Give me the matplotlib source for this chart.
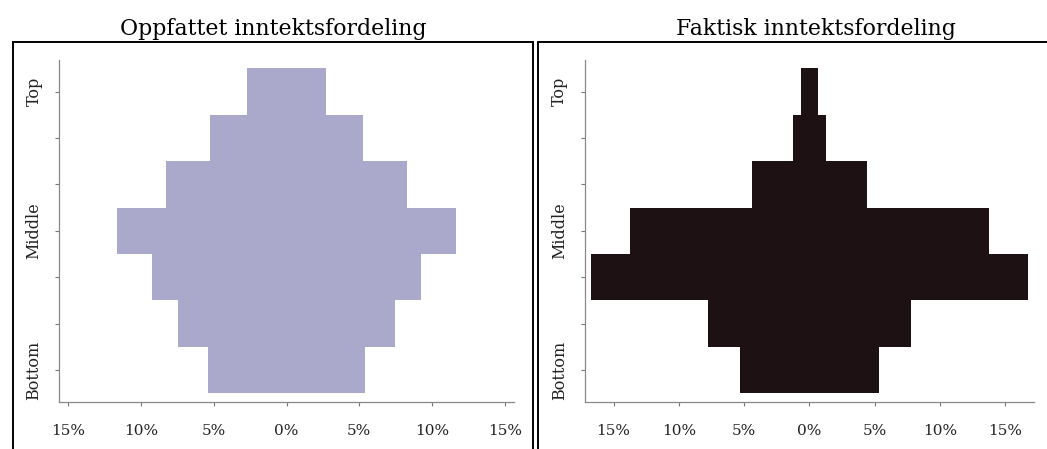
import numpy as np
import matplotlib
matplotlib.use('Agg')
import matplotlib.pyplot as plt
from matplotlib.patches import Rectangle

plt.rcParams['font.family'] = ['DejaVu Serif']

# income groups, bottom to top (7 groups, labels on 3 of them)
groepen = [0, 1, 2, 3, 4, 5, 6]
groep_labels = ['Bottom', '', '', 'Middle', '', '', 'Top']

# share of population in each group (%), bar is drawn half left / half right
oppfattet = [10.8, 14.9, 18.4, 23.3, 16.6, 10.5, 5.4]
faktisk = [10.6, 15.5, 33.5, 27.5, 8.8, 2.55, 1.3]

xticks = [-15, -10, -5, 0, 5, 10, 15]
xtick_labels = ['15%', '10%', '5%', '0%', '5%', '10%', '15%']

titels = ['Oppfattet inntektsfordeling', 'Faktisk inntektsfordeling']
kleuren = ['#aba9cb', '#1d1114']

W, H = 1047, 449
fig = plt.figure(figsize=(W / 100, H / 100), dpi=100)

ax1 = fig.add_axes([59.2 / W, 1 - 401.7 / H, 454.6 / W, 341.7 / H])
ax2 = fig.add_axes([584.8 / W, 1 - 401.7 / H, 449.2 / W, 341.7 / H])


def teken(ax, data, kleur, xlim):
    d = np.array(data)
    ax.barh(groepen, d, left=-d / 2, height=1.0, color=kleur, linewidth=0)
    ax.set_xlim(-xlim, xlim)
    ax.set_ylim(-0.68, 6.68)
    ax.set_xticks(xticks)
    ax.set_xticklabels(xtick_labels, fontsize=11, color='#222222')
    ax.set_yticks(groepen)
    ax.set_yticklabels(groep_labels, rotation=90, va='center', fontsize=11.5,
                       color='#222222')
    ax.tick_params(axis='x', length=3, width=0.8, color='#777777', pad=13)
    ax.tick_params(axis='y', length=3, width=0.8, color='#777777', pad=9)
    for s in ['top', 'right']:
        ax.spines[s].set_visible(False)
    for s in ['left', 'bottom']:
        ax.spines[s].set_color('#888888')
        ax.spines[s].set_linewidth(0.9)


teken(ax1, oppfattet, kleuren[0], 15.6)
teken(ax2, faktisk, kleuren[1], 17.2)

# frames round the two panels (cut off by the picture edge)
fig.add_artist(Rectangle((12.5 / W, -0.05), (533.3 - 12.5) / W, 1.05 - 42.5 / H,
                         transform=fig.transFigure, fill=False, ec='black', lw=1.4))
fig.add_artist(Rectangle((537.5 / W, -0.05), 0.6, 1.05 - 42.5 / H,
                         transform=fig.transFigure, fill=False, ec='black', lw=1.4))

fig.text(273 / W, 1 - 29 / H, titels[0], ha='center', va='center', fontsize=15.8)
fig.text(816 / W, 1 - 29 / H, titels[1], ha='center', va='center', fontsize=15.8)

fig.savefig('out.png', dpi=100)
